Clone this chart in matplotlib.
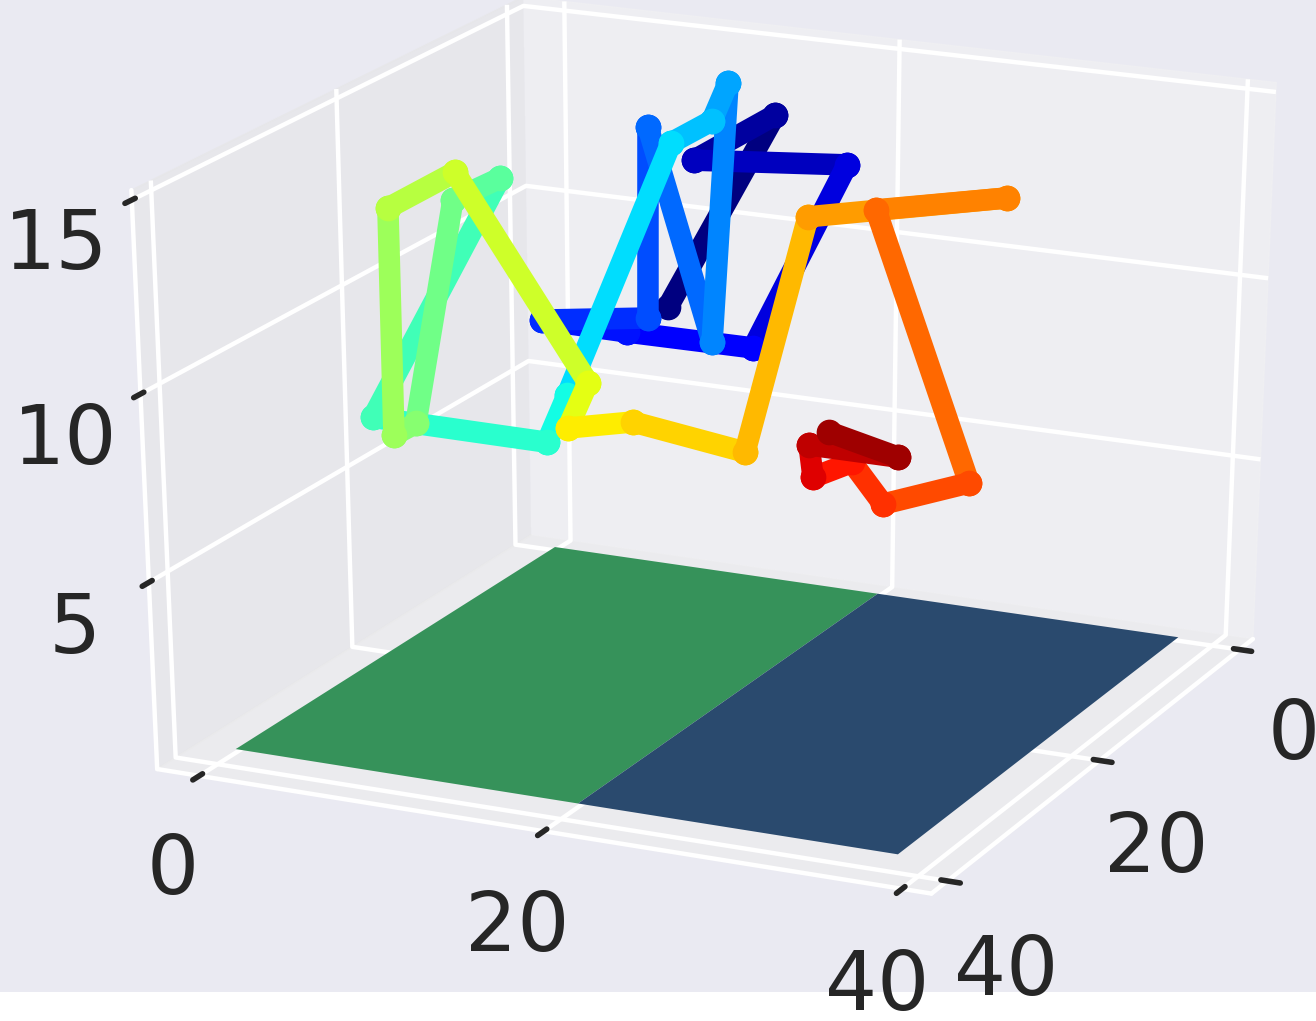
import numpy as np
import matplotlib
matplotlib.use("Agg")
import matplotlib.pyplot as plt
import seaborn as sns
from matplotlib.patches import Rectangle

sns.set_theme(style="darkgrid")
plt.rcParams['font.family'] = ['DejaVu Sans']

x_ticks = [0, 20, 40]
y_ticks = [0, 20, 40]
z_ticks = [5, 10, 15]
floor_x = [0, 38]
floor_y = [0, 20, 38]
floor_colors = ['#36925A', '#2A4A6E']
point_y = [16.67, 22.75, 18.18, 26.79, 21.55, 14.29, 9.33, 15.51, 15.57, 19.2, 20.11, 19.2,
           16.88, 10.75, 9.53, -0.85, 7.0, 4.22, 1.73, 0.39, 0.37, 4.37, 11.99, 10.78,
           14.6, 21.1, 24.63, 35.65, 28.43, 33.87, 29.03, 27.24, 25.02, 24.78, 29.85, 25.91]
point_z = [10.57, 15.94, 14.52, 14.88, 9.77, 9.75, 9.77, 10.20, 15.24, 9.78, 16.62, 15.60,
           14.90, 7.82, 6.46, 6.48, 13.42, 12.68, 6.48, 6.07, 12.25, 13.43, 8.24, 6.93,
           7.34, 6.94, 13.41, 14.53, 13.81, 6.94, 6.05, 7.06, 6.51, 7.37, 7.37, 7.79]
point_x = [20.0] * len(point_y)

fig = plt.figure(figsize=(13.16, 10.21), dpi=100, facecolor='white')
fig.add_artist(Rectangle((0, 29/1021), 1, 992/1021, transform=fig.transFigure, facecolor='#EAEAF2', edgecolor='none', zorder=-5))
W, H = 1416, 1040
cx, cy = 699, 439
rect = [(cx - W/2)/1316, (1021 - cy - H/2)/1021, W/1316, H/1021]
ax = fig.add_axes(rect, projection='3d')
ax.apply_aspect = lambda position=None: ax._set_position(ax.get_position(original=True), 'active')
ax.patch.set_alpha(0)
ax.computed_zorder = False
ax.view_init(elev=23.5, azim=25)
ax.set_box_aspect((1, 1, 1))
X, Y = np.meshgrid(floor_x, floor_y)
Z = np.zeros_like(X, dtype=float)
fc = np.array([[matplotlib.colors.to_rgba(c)] for c in floor_colors])
ax.plot_surface(X, Y, Z, facecolors=fc, rstride=1, cstride=1, shade=False, linewidth=0)
ax.set_xlim(-2, 42)
ax.set_ylim(-2.5, 41.6)
ax.set_zlim(-0.1, 15.25)
ax.set_xticks(x_ticks); ax.set_yticks(y_ticks); ax.set_zticks(z_ticks)
ax.tick_params(labelsize=59, pad=24)
ax.xaxis.set_tick_params(pad=26)
ax.zaxis.set_tick_params(pad=21)
for a in (ax.xaxis, ax.yaxis, ax.zaxis):
    a._axinfo['grid']['color'] = 'white'
    a._axinfo['grid']['linewidth'] = 3.2
    a.line.set_color('white'); a.line.set_linewidth(3.2)
    a._axinfo['tick']['color'] = '#262626'
    a._axinfo['tick']['linewidth'] = {True: 4, False: 4}

n = len(point_y)
for i in range(n - 1):
    ax.plot(point_x[i:i+2], point_y[i:i+2], point_z[i:i+2], color=plt.cm.jet(i/35),
            lw=15.5, marker='o', ms=17.5, solid_capstyle='round')
fig.savefig('out.png', dpi=100)
